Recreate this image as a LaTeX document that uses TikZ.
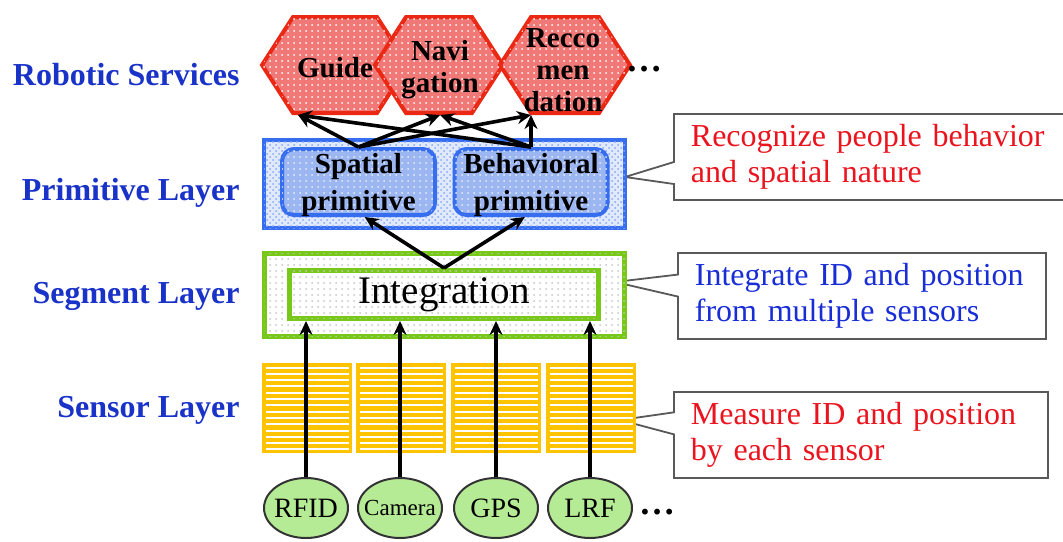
\documentclass[tikz,border=0pt]{standalone}
\usepackage{fontspec}
\setmainfont{Liberation Serif}
\usepackage{tikz}
\usetikzlibrary{arrows.meta,positioning,patterns,shapes.geometric,shapes.callouts}

\definecolor{labblue}{RGB}{25,50,200}
\definecolor{notered}{RGB}{235,20,30}
\definecolor{noteblue}{RGB}{25,45,215}
\definecolor{hexred}{RGB}{235,40,20}
\definecolor{hexfill}{RGB}{240,120,118}
\definecolor{primblue}{RGB}{55,110,240}
\definecolor{primfill}{RGB}{155,182,240}
\definecolor{seggreen}{RGB}{120,200,25}
\definecolor{sensyellow}{RGB}{255,195,0}
\definecolor{sensfill}{RGB}{182,235,150}

\begin{document}
\begin{tikzpicture}[x=0.5pt,y=-0.5pt,
  layer/.style={anchor=base east, inner sep=0pt, text=labblue, font=\bfseries\fontsize{16}{19}\selectfont},
  svc/.style={align=center, inner sep=0pt, font=\bfseries\fontsize{14.5}{16}\selectfont},
  hexa/.style={draw=hexred, line width=2pt, line join=miter, fill=hexfill,
    postaction={pattern=dots, pattern color=white}},
  prim/.style={draw=primblue, line width=2pt, rounded corners=6pt, fill=primfill,
    postaction={pattern=dots, pattern color=white!75!primfill},
    minimum width=76.5pt, minimum height=33pt, inner sep=0pt, text depth=0pt, align=center,
    font=\bfseries\fontsize{14.5}{18.5}\selectfont},
  segbox/.style={draw=seggreen, line width=2.5pt, fill=white,
    postaction={pattern=dots, pattern color=black!22}},
  sensor/.style={ellipse, draw=black!80, line width=1pt, fill=sensfill, inner sep=0pt,
    minimum width=42pt, minimum height=30pt},
  note/.style={rectangle callout, draw=black!65, line width=0.9pt, fill=white,
    callout pointer width=11pt, anchor=north west, align=left, inner xsep=8.5pt,
    minimum height=43pt, font=\fontsize{16}{18}\selectfont},
  arr/.style={-{Stealth[length=7pt,width=6.5pt]}, line width=1.8pt}]
  \useasboundingbox (0,0) rectangle (1063,541);

  \node[layer] (lrob) at (240,85) {Robotic Services};
  \node[layer] (lprim) at (240,200) {Primitive Layer};
  \node[layer] (lseg) at (240,303) {Segment Layer};
  \node[layer] (lsens) at (240,417) {Sensor Layer};

  \node[note, text=notered, text width=181.5pt, callout absolute pointer={(625,177)}]
    (primnote) at (673,113) {Recognize people behavior\\and spatial nature};
  \node[note, text=noteblue, text width=167pt, callout absolute pointer={(615,282)}]
    (segnote) at (677,252) {Integrate ID and position\\from multiple sensors};
  \node[note, text=notered, text width=170pt, callout absolute pointer={(620,420)}]
    (sensnote) at (673,391) {Measure ID and position\\by each sensor};

  \foreach \x in {262,356,451,546} {
    \fill[sensyellow] (\x,363) rectangle ++(90,90);
    \foreach \k in {0,...,13}
      \draw[white, line width=1pt] (\x+3.5,367.5+6.3*\k) -- ++(83,0);
  }

  \foreach \n/\x/\t in {rfid/306/RFID, gps/496/GPS, lrf/590/LRF}
    \node[sensor, label={[font=\fontsize{14}{14}\selectfont]center:\t}] (\n) at (\x,508) {};
  \node[sensor, label={[font=\fontsize{11.5}{12}\selectfont]center:Camera}] (cam) at (400,508) {};
  \node[font=\bfseries\fontsize{18}{18}\selectfont] (sensmore) at (657,512) {…};

  \node[segbox, minimum width=180pt, minimum height=41.5pt] (seglayer) at (444.5,295) {};
  \node[segbox, minimum width=154.5pt, minimum height=24pt, inner sep=0pt,
    font=\fontsize{19.5}{20}\selectfont] (integ) at (444,294.5) {Integration};

  \node[draw=primblue, line width=2pt, fill=primblue!15,
    postaction={pattern=crosshatch dots, pattern color=primblue!60},
    minimum width=180.5pt, minimum height=44pt] (primlayer) at (444.5,184) {};
  \node[prim] (spatial) at (358.5,182) {Spatial\\primitive};
  \node[prim] (behav) at (531,182) {Behavioral\\primitive};

  \foreach \n/\c/\w/\t in {guide/335/73/42, navi/439/64/33, recco/565/65/34} {
    \draw[hexa] (\c-\w,65) -- (\c-\t,17) -- (\c+\t,17) -- (\c+\w,65)
      -- (\c+\t,113) -- (\c-\t,113) -- cycle;
  }
  \node[svc] (guide) at (335,68) {Guide};
  \node[svc] (navi) at (440,70) {Navi\\gation};
  \node[svc] (recco) at (563,70) {Recco\\men\\dation};
  \node[font=\bfseries\fontsize{18}{18}\selectfont] (svcmore) at (644,69) {…};

  \coordinate (guide-in) at (298,115);
  \coordinate (navi-in) at (440,115);
  \coordinate (recco-in) at (531,115);

  \foreach \p in {spatial,behav}
    \foreach \s in {guide,navi,recco}
      \draw[arr] (\p.north) -- (\s-in);
  \draw[arr] (integ.north) -- (spatial.-80);
  \draw[arr] (integ.north) -- (behav.-100);
  \foreach \n in {rfid,cam,gps,lrf}
    \draw[arr] (\n.north) -- (\n.north |- integ.south);
\end{tikzpicture}
\end{document}
